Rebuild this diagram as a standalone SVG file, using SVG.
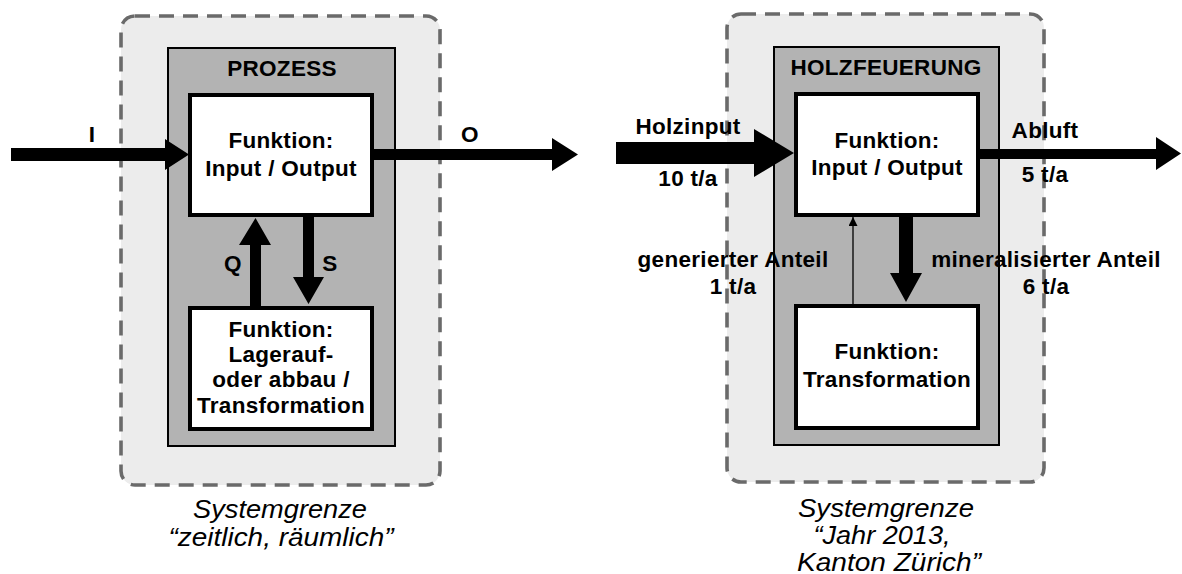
<svg xmlns="http://www.w3.org/2000/svg" width="1182" height="574" viewBox="0 0 1182 574">
  <style>
    .boundary { fill: #ececec; stroke: #6a6a6a; stroke-width: 3.6; stroke-dasharray: 15 9; }
    .process { fill: #b3b3b3; stroke: #000; stroke-width: 2; }
    .func { fill: #fff; stroke: #000; stroke-width: 4; }
    .flow { fill: #000; stroke: none; }
    .thin { fill: none; stroke: #000; stroke-width: 1.3; }
    text { font-family: "Liberation Sans", Arial, sans-serif; fill: #000; }
    .lbl { font-size: 22.5px; font-weight: bold; letter-spacing: 0.3px; text-anchor: middle; }
    .cap { font-size: 25px; font-style: italic; text-anchor: middle; }
  </style>
  <defs>
    <marker id="tip" viewBox="0 0 10 10" refX="10" refY="5" markerWidth="10" markerHeight="9" markerUnits="userSpaceOnUse" orient="auto">
      <path d="M0,0 L10,5 L0,10 Z" fill="#000"/>
    </marker>
  </defs>

  <rect width="1182" height="574" fill="#fff"/>

  <!-- generic process model -->
  <g id="boundary-left">
    <rect class="boundary" x="121" y="16" width="319" height="469" rx="14"/>
    <text class="cap" x="280" y="518" textLength="174" lengthAdjust="spacingAndGlyphs">Systemgrenze</text>
    <text class="cap" x="281" y="546" textLength="225" lengthAdjust="spacingAndGlyphs">“zeitlich, räumlich”</text>
  </g>
  <g id="prozess">
    <rect class="process" x="168" y="48" width="227" height="398"/>
    <text class="lbl" x="282" y="76">PROZESS</text>
  </g>
  <g id="funktion-io-left">
    <rect class="func" x="190" y="95" width="182" height="120"/>
    <text class="lbl" x="281" y="148">Funktion:</text>
    <text class="lbl" x="281" y="176">Input / Output</text>
  </g>
  <g id="funktion-lager">
    <rect class="func" x="190" y="308" width="182" height="121"/>
    <text class="lbl" x="281" y="337">Funktion:</text>
    <text class="lbl" x="281" y="362">Lagerauf-</text>
    <text class="lbl" x="281" y="387">oder abbau /</text>
    <text class="lbl" x="281" y="413">Transformation</text>
  </g>

  <!-- wood firing example -->
  <g id="boundary-right">
    <rect class="boundary" x="727" y="14" width="317" height="468" rx="14"/>
    <text class="cap" x="886" y="517" textLength="176" lengthAdjust="spacingAndGlyphs">Systemgrenze</text>
    <text class="cap" x="882" y="544" textLength="137" lengthAdjust="spacingAndGlyphs">“Jahr 2013,</text>
    <text class="cap" x="889" y="571" textLength="184" lengthAdjust="spacingAndGlyphs">Kanton Zürich”</text>
  </g>
  <g id="holzfeuerung">
    <rect class="process" x="774" y="47" width="225" height="398"/>
    <text class="lbl" x="886" y="75">HOLZFEUERUNG</text>
  </g>
  <g id="funktion-io-right">
    <rect class="func" x="796" y="94" width="182" height="121"/>
    <text class="lbl" x="887" y="148">Funktion:</text>
    <text class="lbl" x="887" y="175">Input / Output</text>
  </g>
  <g id="funktion-transformation">
    <rect class="func" x="796" y="306" width="182" height="122"/>
    <text class="lbl" x="887" y="359">Funktion:</text>
    <text class="lbl" x="887" y="387">Transformation</text>
  </g>

  <!-- flows -->
  <g id="connectors">
    <path class="flow" d="M11,148 H165 V139 L189,154.5 L165,170 V161 H11 Z"/>
    <path class="flow" d="M373,149 H552 V138 L578,154.5 L552,171 V160 H373 Z"/>
    <path class="flow" d="M250,306 V245 H239 L255.5,218 L271,245 H261 V306 Z"/>
    <path class="flow" d="M303,217 V277 H293 L308.5,304 L324,277 H314 V217 Z"/>
    <path class="flow" d="M616,142 H754 V129 L794,153 L754,177 V164 H616 Z"/>
    <path class="flow" d="M980,149 H1156 V137 L1181,153.5 L1156,170 V159 H980 Z"/>
    <path class="flow" d="M899,217 V273 H890 L906,302 L922,273 H913 V217 Z"/>
    <path class="thin" d="M853,304 V217" marker-end="url(#tip)"/>
  </g>

  <!-- flow labels -->
  <g id="flow-labels">
    <text class="lbl" x="92" y="142">I</text>
    <text class="lbl" x="470" y="142">O</text>
    <text class="lbl" x="233" y="271">Q</text>
    <text class="lbl" x="330" y="271">S</text>
    <text class="lbl" x="688" y="134">Holzinput</text>
    <text class="lbl" x="688" y="186">10 t/a</text>
    <text class="lbl" x="1045" y="138">Abluft</text>
    <text class="lbl" x="1045" y="182">5 t/a</text>
    <text class="lbl" x="733" y="267">generierter Anteil</text>
    <text class="lbl" x="733" y="294">1 t/a</text>
    <text class="lbl" x="1046" y="267">mineralisierter Anteil</text>
    <text class="lbl" x="1046" y="294">6 t/a</text>
  </g>
</svg>
